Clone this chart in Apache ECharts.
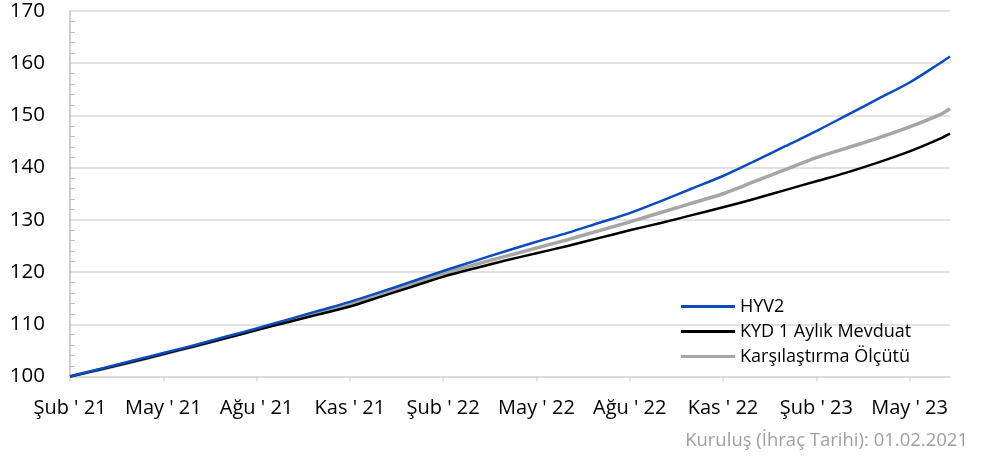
<!DOCTYPE html>
<html>
<head>
<meta charset="utf-8">
<script src="https://cdn.jsdelivr.net/npm/echarts@6/dist/echarts.min.js"></script>
<style>
html,body{margin:0;padding:0;background:#fff;}
#chart{width:991px;height:463px;}
</style>
</head>
<body>
<div id="chart"></div>
<script>
// month index since 01.02.2021
const monthIndex = [0,1,2,3,4,5,6,7,8,9,10,11,12,13,14,15,16,17,18,19,20,21,22,23,24,25,26,27,28,28.3];
const tickLabels = ["Şub ' 21","May ' 21","Ağu ' 21","Kas ' 21","Şub ' 22","May ' 22","Ağu ' 22","Kas ' 22","Şub ' 23","May ' 23"];
const seriesNames = ["HYV2","KYD 1 Aylık Mevduat","Karşılaştırma Ölçütü"];
const hyv2 = [100.0,101.5,103.0,104.5,106.0,107.6,109.2,110.9,112.6,114.3,116.2,118.2,120.2,122.1,124.0,125.8,127.5,129.4,131.3,133.6,136.0,138.4,141.2,144.1,147.0,150.1,153.2,156.3,160.1,161.3];
const kyd = [100.0,101.4,102.8,104.3,105.8,107.3,108.9,110.4,111.9,113.4,115.3,117.2,119.1,120.7,122.2,123.6,125.0,126.5,128.0,129.4,130.9,132.4,134.0,135.7,137.4,139.1,141.0,143.1,145.6,146.5];
const olcut = [100.0,101.4,102.8,104.3,105.8,107.4,109.0,110.6,112.2,113.8,115.7,117.7,119.7,121.4,123.0,124.6,126.2,127.9,129.6,131.4,133.2,135.0,137.3,139.6,141.9,143.8,145.7,147.8,150.2,151.3];
const footnote = "Kuruluş (İhraç Tarihi): 01.02.2021";

const pairs = arr => monthIndex.map((m, i) => [m, arr[i]]);
const tickPositions = tickLabels.map((_, i) => i * 3);
const FONT = "Open Sans";
const colors = ['#0a4bbd', '#000000', '#a6a6a6'];

const chart = echarts.init(document.getElementById('chart'), null, {renderer: 'canvas'});
chart.setOption({
  animation: false,
  backgroundColor: '#fff',
  textStyle: {fontFamily: FONT},
  grid: {left: 70, right: 41, top: 11, bottom: 86.5, containLabel: false},
  xAxis: {
    type: 'value',
    min: 0,
    max: monthIndex[monthIndex.length - 1],
    interval: 3,
    axisLine: {show: true, lineStyle: {color: '#d9d9d9', width: 1.5}},
    axisTick: {show: true, length: 5, inside: false, customValues: tickPositions, lineStyle: {color: '#d9d9d9', width: 1.5}},
    splitLine: {show: false},
    axisLabel: {
      customValues: tickPositions,
      margin: 22,
      fontFamily: FONT, fontSize: 20, color: '#000',
      formatter: v => { const k = Math.round(v / 3); return (Math.abs(v - k * 3) < 1e-6 && tickLabels[k]) ? tickLabels[k] : ''; }
    }
  },
  yAxis: {
    type: 'value',
    min: 100, max: 170, interval: 10,
    axisLine: {show: true, lineStyle: {color: '#bfbfbf', width: 1.5}},
    axisTick: {show: false, inside: true},
    minorTick: {show: true, splitNumber: 5, length: 5, lineStyle: {color: '#bfbfbf', width: 1}},
    minorSplitLine: {show: false},
    splitLine: {show: true, lineStyle: {color: '#d9d9d9', width: 1.5}},
    axisLabel: {margin: 25, fontFamily: FONT, fontSize: 20.5, color: '#000'}
  },
  legend: {
    orient: 'vertical',
    left: 676, top: 291,
    icon: 'rect',
    itemWidth: 54, itemHeight: 3,
    itemGap: 4,
    itemStyle: {borderWidth: 0},
    textStyle: {fontFamily: FONT, fontSize: 18, color: '#000', lineHeight: 21},
    data: seriesNames.map((n, i) => ({name: n, itemStyle: {color: colors[i]}}))
  },
  graphic: [{
    type: 'text', right: 23, top: 431,
    style: {text: footnote, fontFamily: FONT, fontSize: 18.5, fill: '#a0a0a0'}
  }],
  series: [
    {name: seriesNames[2], type: 'line', data: pairs(olcut), symbol: 'none', smooth: 0.3, z: 2,
     lineStyle: {color: colors[2], width: 3.5}, itemStyle: {color: colors[2]}},
    {name: seriesNames[1], type: 'line', data: pairs(kyd), symbol: 'none', smooth: 0.3, z: 3,
     lineStyle: {color: colors[1], width: 2.5}, itemStyle: {color: colors[1]}},
    {name: seriesNames[0], type: 'line', data: pairs(hyv2), symbol: 'none', smooth: 0.3, z: 4,
     lineStyle: {color: colors[0], width: 2.5}, itemStyle: {color: colors[0]}}
  ]
});
</script>
</body>
</html>
